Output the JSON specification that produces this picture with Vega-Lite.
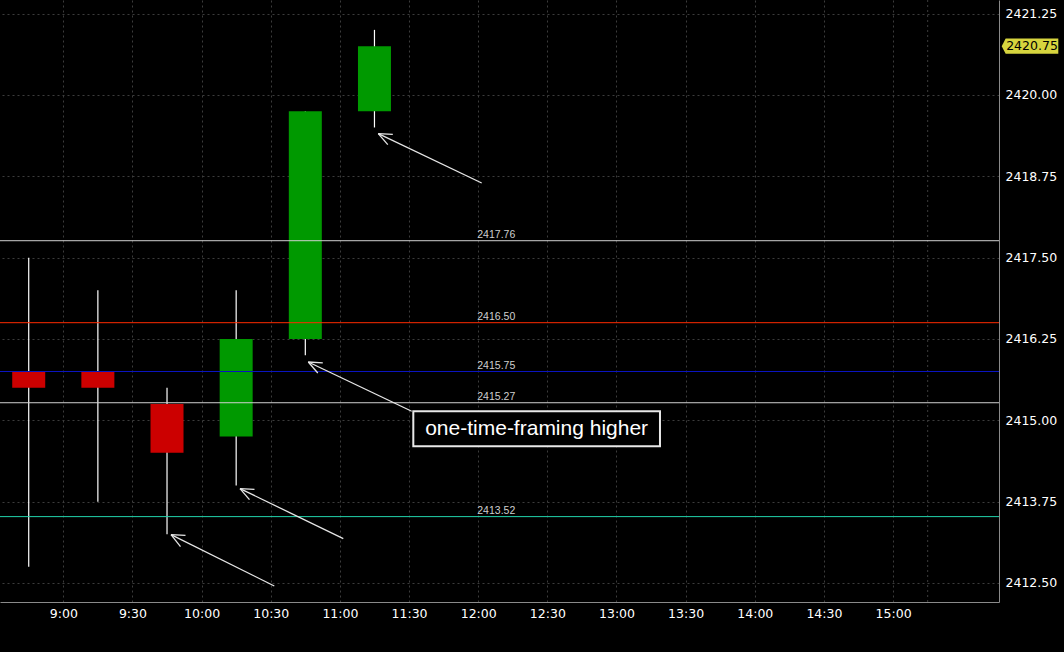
{
  "$schema": "https://vega.github.io/schema/vega-lite/v6.json",
  "width": 999,
  "height": 602,
  "autosize": {"type": "none"},
  "padding": {"left": 0, "top": 0, "right": 65, "bottom": 50},
  "background": "#000000",
  "config": {"view": {"stroke": null}},
  "datasets": {
    "bars": [
      {"t": 525, "open": 2415.75, "high": 2417.50, "low": 2412.75, "close": 2415.50},
      {"t": 555, "open": 2415.75, "high": 2417.00, "low": 2413.75, "close": 2415.50},
      {"t": 585, "open": 2415.25, "high": 2415.50, "low": 2413.25, "close": 2414.50},
      {"t": 615, "open": 2414.75, "high": 2417.00, "low": 2414.00, "close": 2416.25},
      {"t": 645, "open": 2416.25, "high": 2419.75, "low": 2416.00, "close": 2419.75},
      {"t": 675, "open": 2419.75, "high": 2421.00, "low": 2419.50, "close": 2420.75}
    ],
    "levels": [
      {"price": 2417.76, "label": "2417.76"},
      {"price": 2416.50, "label": "2416.50"},
      {"price": 2415.75, "label": "2415.75"},
      {"price": 2415.27, "label": "2415.27"},
      {"price": 2413.52, "label": "2413.52"}
    ],
    "arrows": [
      {"a": 1, "x1": 721.52, "y1": 2418.647, "x2": 676.66, "y2": 2419.406},
      {"a": 1, "x1": 676.66, "y1": 2419.406, "x2": 682.95, "y2": 2419.394},
      {"a": 1, "x1": 676.66, "y1": 2419.406, "x2": 680.78, "y2": 2419.237},
      {"a": 2, "x1": 691.15, "y1": 2415.139, "x2": 646.29, "y2": 2415.896},
      {"a": 2, "x1": 646.29, "y1": 2415.896, "x2": 652.58, "y2": 2415.884},
      {"a": 2, "x1": 646.29, "y1": 2415.896, "x2": 650.41, "y2": 2415.727},
      {"a": 3, "x1": 661.48, "y1": 2413.182, "x2": 616.66, "y2": 2413.951},
      {"a": 3, "x1": 616.66, "y1": 2413.951, "x2": 622.95, "y2": 2413.938},
      {"a": 3, "x1": 616.66, "y1": 2413.951, "x2": 620.78, "y2": 2413.782},
      {"a": 4, "x1": 631.54, "y1": 2412.454, "x2": 586.73, "y2": 2413.244},
      {"a": 4, "x1": 586.73, "y1": 2413.244, "x2": 593.02, "y2": 2413.232},
      {"a": 4, "x1": 586.73, "y1": 2413.244, "x2": 590.85, "y2": 2413.059}
    ],
    "note": [
      {"x1": 691.85, "x2": 798.87, "y1": 2415.139, "y2": 2414.601, "tx": 745.36, "ty": 2414.87, "text": "one-time-framing higher"}
    ],
    "last": [
      {"t": 959.4, "price": 2420.75, "label": "2420.75"}
    ],
    "session": [
      {"t": 915}
    ]
  },
  "layer": [
    {
      "data": {"name": "session"},
      "mark": {"type": "rule", "color": "#3c3c3c", "strokeDash": [2, 3], "strokeWidth": 1},
      "encoding": {
        "x": {"field": "t", "type": "quantitative", "title": null,
              "scale": {"domain": [512.54, 945.95], "nice": false, "zero": false, "padding": 0},
              "axis": {"title": null, "orient": "bottom", "values": [540, 570, 600, 630, 660, 690, 720, 750, 780, 810, 840, 870, 900],
                       "labelExpr": "floor(datum.value/60) + ':' + (datum.value % 60 == 0 ? '00' : '30')",
                       "grid": true, "gridColor": "#3c3c3c", "gridDash": [2, 3], "gridWidth": 1,
                       "ticks": false, "domainColor": "#8a8a8a", "domainWidth": 1,
                       "labelColor": "#ffffff", "labelFont": "DejaVu Sans", "labelFontSize": 12.5, "labelPadding": 5}}
      }
    },
    {
      "data": {"name": "bars"},
      "mark": {"type": "rule", "color": "#ffffff", "strokeWidth": 1.2},
      "encoding": {
        "x": {"field": "t", "type": "quantitative", "title": null},
        "y": {"field": "low", "type": "quantitative", "title": null,
              "scale": {"domain": [2412.208, 2421.459], "nice": false, "zero": false, "padding": 0},
              "axis": {"title": null, "orient": "right", "values": [2412.5, 2413.75, 2415, 2416.25, 2417.5, 2418.75, 2420, 2421.25],
                       "format": ".2f", "grid": true, "gridColor": "#3c3c3c", "gridDash": [2, 3], "gridWidth": 1,
                       "ticks": false, "domainColor": "#8a8a8a", "domainWidth": 1,
                       "labelColor": "#ffffff", "labelFont": "DejaVu Sans", "labelFontSize": 12.5, "labelPadding": 6}},
        "y2": {"field": "high"}
      }
    },
    {
      "data": {"name": "bars"},
      "mark": {"type": "bar", "size": 33},
      "encoding": {
        "x": {"field": "t", "type": "quantitative", "title": null},
        "y": {"field": "open", "type": "quantitative", "title": null},
        "y2": {"field": "close"},
        "color": {"condition": {"test": "datum.open > datum.close", "value": "#cc0000"}, "value": "#009900"}
      }
    },
    {
      "data": {"name": "levels"},
      "mark": {"type": "rule", "strokeWidth": 1},
      "encoding": {
        "y": {"field": "price", "type": "quantitative", "title": null},
        "color": {"field": "label", "type": "nominal", "legend": null,
                  "scale": {"domain": ["2417.76", "2416.50", "2415.75", "2415.27", "2413.52"],
                            "range": ["#d0d0d0", "#ff2a00", "#0a14c0", "#d0d0d0", "#22d4ac"]}}
      }
    },
    {
      "data": {"name": "levels"},
      "mark": {"type": "text", "align": "left", "baseline": "alphabetic", "dy": -3, "font": "Liberation Sans", "fontSize": 10.5, "color": "#cfcfcf"},
      "encoding": {
        "x": {"datum": 719.6, "type": "quantitative"},
        "y": {"field": "price", "type": "quantitative", "title": null},
        "text": {"field": "label"}
      }
    },
    {
      "data": {"name": "arrows"},
      "mark": {"type": "rule", "color": "#e6e6e6", "strokeWidth": 1.3},
      "encoding": {
        "x": {"field": "x1", "type": "quantitative", "title": null},
        "x2": {"field": "x2"},
        "y": {"field": "y1", "type": "quantitative", "title": null},
        "y2": {"field": "y2"},
        "detail": {"field": "a"}
      }
    },
    {
      "data": {"name": "note"},
      "mark": {"type": "rect", "fill": "#000000", "stroke": "#e8e8e8", "strokeWidth": 2},
      "encoding": {
        "x": {"field": "x1", "type": "quantitative", "title": null},
        "x2": {"field": "x2"},
        "y": {"field": "y1", "type": "quantitative", "title": null},
        "y2": {"field": "y2"}
      }
    },
    {
      "data": {"name": "note"},
      "mark": {"type": "text", "align": "center", "baseline": "middle", "font": "Liberation Sans", "fontSize": 21, "color": "#ffffff"},
      "encoding": {
        "x": {"field": "tx", "type": "quantitative", "title": null},
        "y": {"field": "ty", "type": "quantitative", "title": null},
        "text": {"field": "text"}
      }
    },
    {
      "data": {"name": "last"},
      "mark": {"type": "point", "shape": "M-1,0 L-0.86,-0.27 L1,-0.27 L1,0.27 L-0.86,0.27 Z", "size": 3204, "filled": true, "fill": "#d6d43e", "stroke": null, "opacity": 1},
      "encoding": {
        "x": {"field": "t", "type": "quantitative", "title": null},
        "y": {"field": "price", "type": "quantitative", "title": null}
      }
    },
    {
      "data": {"name": "last"},
      "mark": {"type": "text", "align": "center", "baseline": "middle", "dx": 2, "font": "DejaVu Sans", "fontSize": 12.5, "color": "#000000"},
      "encoding": {
        "x": {"field": "t", "type": "quantitative", "title": null},
        "y": {"field": "price", "type": "quantitative", "title": null},
        "text": {"field": "label"}
      }
    }
  ]
}
